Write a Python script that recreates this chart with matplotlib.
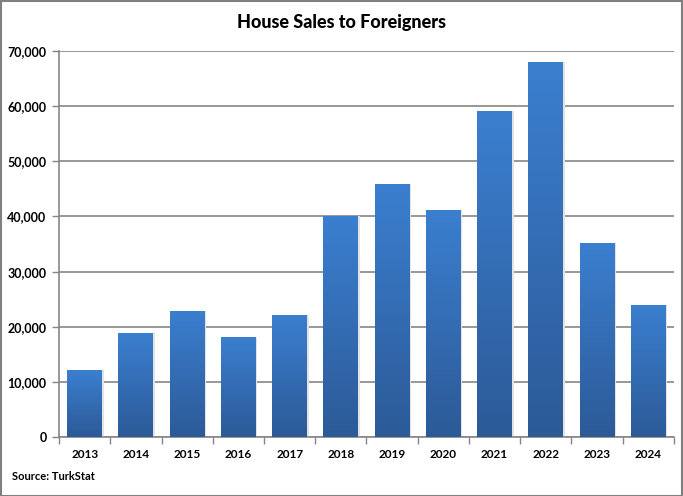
import matplotlib.pyplot as plt
import numpy as np
from matplotlib.colors import LinearSegmentedColormap
from matplotlib.ticker import FuncFormatter, FixedLocator, NullFormatter

plt.rcParams["font.family"] = ["Lato", "DejaVu Sans"]
plt.rcParams["font.weight"] = "bold"

years = ["2013", "2014", "2015", "2016", "2017", "2018",
         "2019", "2020", "2021", "2022", "2023", "2024"]
sales = [12100, 18800, 22900, 18200, 22200, 40000,
         45800, 41100, 59100, 68000, 35100, 23900]

grid_col = "#868686"
top_col = "#3B7FD0"
bot_col = "#2C5A97"

fig = plt.figure(figsize=(6.83, 4.96), dpi=100)
ax = fig.add_axes([0.0864, 0.119, 0.9004, 0.778])

x = np.arange(len(years))
bars = ax.bar(x, sales, width=0.68, color="none", edgecolor="none", zorder=3)

# vertical gradient per bar, clipped to the bar rectangle
cmap = LinearSegmentedColormap.from_list("grad", [bot_col, top_col])
grad = np.linspace(0, 1, 256).reshape(-1, 1)
for b in bars:
    x0, y0 = b.get_x(), b.get_y()
    w, h = b.get_width(), b.get_height()
    # soft shadow on the right
    ax.add_patch(plt.Rectangle((x0 + 0.03, y0), w, h, color="#e3e3e3",
                               zorder=2, linewidth=0))
    im = ax.imshow(grad, cmap=cmap, origin="lower", aspect="auto",
                   extent=(x0, x0 + w, y0, y0 + h), zorder=3,
                   interpolation="bilinear")
    im.set_clip_path(b)

ax.set_xlim(-0.5, len(years) - 0.5)
ax.set_ylim(0, 70000)
ax.set_yticks(np.arange(0, 70001, 10000))
ax.yaxis.set_major_formatter(FuncFormatter(lambda v, p: f"{int(v):,}"))
ax.grid(axis="y", color=grid_col, linewidth=1.2, zorder=0)
ax.set_axisbelow(True)

# x ticks at category boundaries, labels centered
ax.xaxis.set_major_locator(FixedLocator(np.arange(-0.5, len(years), 1.0)))
ax.xaxis.set_major_formatter(NullFormatter())
ax.xaxis.set_minor_locator(FixedLocator(x))
ax.set_xticklabels(years, minor=True)
ax.tick_params(axis="x", which="minor", length=0, pad=9, labelsize=8.5)
ax.tick_params(axis="x", which="major", length=5, color=grid_col, width=1)
ax.tick_params(axis="y", length=5, color=grid_col, width=1, labelsize=9, pad=4)

for s in ["top", "right"]:
    ax.spines[s].set_visible(False)
for s in ["left", "bottom"]:
    ax.spines[s].set_color(grid_col)
    ax.spines[s].set_linewidth(1.2)

fig.text(0.5, 0.955, "House Sales to Foreigners", ha="center", va="center",
         fontsize=13, fontweight="black")
fig.text(0.018, 0.04, "Source: TurkStat", ha="left", va="center",
         fontsize=8, fontweight="bold")

# border around the figure
fig.patches.append(plt.Rectangle((0.001, 0.001), 0.997, 0.996, transform=fig.transFigure,
                                 fill=False, edgecolor="#7f7f7f", linewidth=1.5))

fig.savefig("out.png", dpi=100)
